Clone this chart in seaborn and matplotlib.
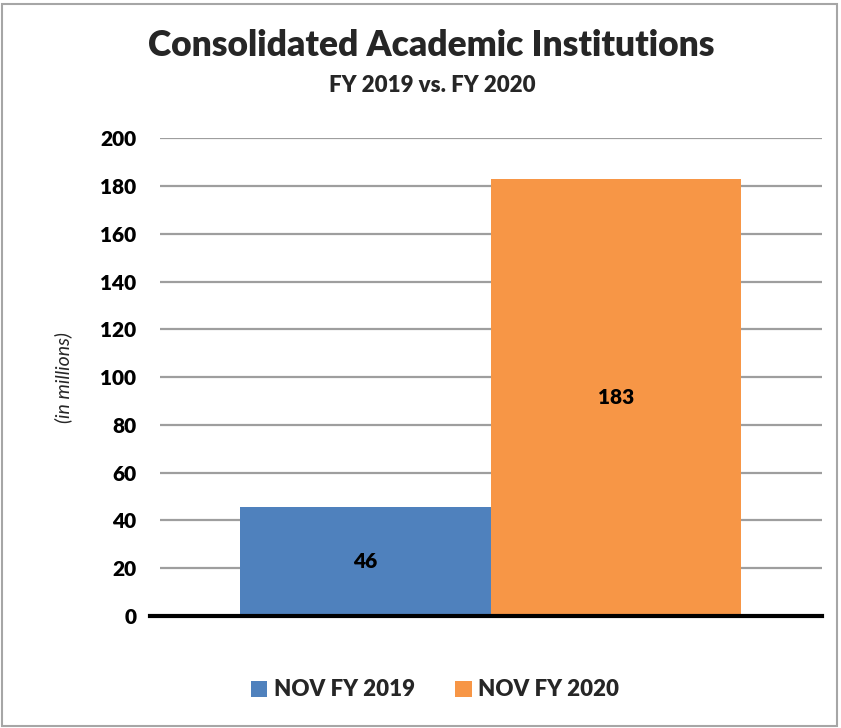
import matplotlib
matplotlib.use("Agg")
import matplotlib.pyplot as plt
import seaborn as sns
import pandas as pd
from matplotlib.patches import Rectangle

categories = ["Consolidated"]
series = ["NOV FY 2019", "NOV FY 2020"]
values = [45.6, 182.8]
labels = ["46", "183"]
yticks = [0, 20, 40, 60, 80, 100, 120, 140, 160, 180, 200]
colors = ["#4F81BD", "#F79646"]

df = pd.DataFrame({"cat": categories * len(series), "series": series, "value": values})

sns.set_theme(style="white")
plt.rcParams["font.family"] = ["Lato", "DejaVu Sans"]
W = "heavy"

fig = plt.figure(figsize=(8.41, 7.28), dpi=100)
ax = fig.add_axes([0.190, 0.154, 0.787, 0.656])

sns.barplot(data=df, x="cat", y="value", hue="series", palette=colors,
            width=0.757, saturation=1, ax=ax, legend=True, dodge=True, linewidth=0)

ax.set_ylim(0, 200)
ax.set_xlim(-0.5, 0.5)
ax.set_yticks(yticks)
ax.set_yticklabels([str(t) for t in yticks], fontsize=15, fontweight=W, color="black")
ax.tick_params(axis="y", length=0, pad=17)
ax.set_xticks([])
ax.set_xlabel("")
ax.set_ylabel("(in millions)", fontsize=14, fontstyle="italic", labelpad=20)
ax.yaxis.grid(True, color="#9E9E9E", linewidth=1.6)
ax.set_axisbelow(True)
for s in ["top", "right", "left"]:
    ax.spines[s].set_visible(False)
ax.spines["bottom"].set_color("black")
ax.spines["bottom"].set_linewidth(3)
ax.spines["bottom"].set_bounds(-0.5 - 10/662, 0.5)

for container, lab in zip(ax.containers, labels):
    for bar in container:
        ax.text(bar.get_x() + bar.get_width() / 2, bar.get_height() / 2, lab,
                ha="center", va="center", fontsize=15, fontweight=W, color="black")

handles, hl = ax.get_legend_handles_labels()
ax.legend_.remove()
fig.legend(handles, hl, loc="center", bbox_to_anchor=(435/841, 1 - 690/728), ncol=2,
           frameon=False, prop={"weight": W, "size": 16},
           handlelength=0.75, handleheight=0.75, handletextpad=0.3, columnspacing=1.8)

fig.text(431/841, 1 - 46/728, "Consolidated Academic Institutions", ha="center", va="center",
         fontsize=25.5, fontweight=W)
fig.text(432/841, 1 - 85/728, "FY 2019 vs. FY 2020", ha="center", va="center",
         fontsize=16, fontweight=W)

fig.patches.append(Rectangle((2/841, 2/728), 1 - 6/841, 1 - 6/728, transform=fig.transFigure,
                             fill=False, edgecolor="#A6A6A6", linewidth=1.5))

fig.savefig("out.png", dpi=100)
